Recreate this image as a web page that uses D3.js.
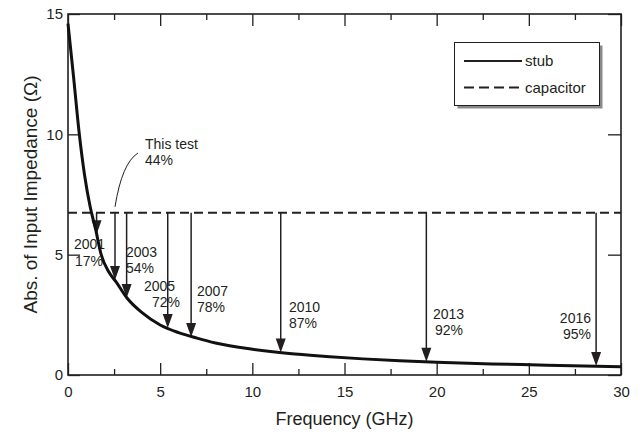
<!DOCTYPE html>
<html>
<head>
<meta charset="utf-8">
<script src="https://cdn.jsdelivr.net/npm/d3@7"></script>
<style>
  html, body { margin: 0; padding: 0; background: #fff; }
  svg { display: block; font-family: "Liberation Sans", Arial, Helvetica, sans-serif; }
</style>
</head>
<body>
<svg id="chart" width="643" height="437"></svg>
<script>
// ---- data ----
const stubFreq = [0, 0.3, 0.6, 0.9, 1.2, 1.5, 1.8, 2.2, 2.6, 3.2, 4, 5, 6, 7, 8, 10, 12, 14, 16, 18, 20, 23, 26, 30];
const stubZ    = [14.6, 12.4, 10.1, 8.3, 7.0, 6.05, 5.0, 4.3, 3.88, 3.2, 2.6, 2.08, 1.76, 1.53, 1.33, 1.07, 0.89, 0.77, 0.67, 0.59, 0.53, 0.46, 0.41, 0.34];
const capacitorZ = 6.74;
const arrowLabels = ["2001", "This test", "2003", "2005", "2007", "2010", "2013", "2016"];
const arrowPct    = ["17%", "44%", "54%", "72%", "78%", "87%", "92%", "95%"];
const arrowFreq   = [1.55, 2.55, 3.18, 5.41, 6.68, 11.54, 19.44, 28.65];
const arrowTipZ   = [5.85, 3.95, 3.2, 1.95, 1.58, 0.93, 0.55, 0.37];
const xMajorTicks = [0, 5, 10, 15, 20, 25, 30];
const xMinorTicks = [2.5, 7.5, 12.5, 17.5, 22.5, 27.5];
const yTicks = [0, 5, 10, 15];
const seriesNames = ["stub", "capacitor"];

// ---- layout (pixels) ----
const L = 68, R = 621, T = 14, B = 375;
const ink = "#231f20";
// label placement per arrow: [x line1, x line2, baseline1, baseline2, anchor]
const labelLayout = [
  [74, 75, 249, 266, "start"],
  [145, 145, 149, 165, "start"],
  [126, 126, 257, 273, "start"],
  [144, 152, 291, 307, "start"],
  [197, 197, 296, 312, "start"],
  [289, 289, 312, 328, "start"],
  [433, 435, 319, 335, "start"],
  [591, 591, 323, 339, "end"]
];

const svg = d3.select("#chart");
const x = d3.scaleLinear().domain([0, 30]).range([L, R]);
const y = d3.scaleLinear().domain([0, 15]).range([B, T]);

// axes with inward ticks
function styleAxis(g) {
  g.select(".domain").remove();
  g.selectAll("line").attr("stroke", ink).attr("stroke-width", 1.3);
  g.selectAll("text").attr("fill", ink).style("font-size", "15px").style("font-family", "'Liberation Sans', Arial, sans-serif");
}
svg.append("g").attr("transform", `translate(0,${B})`)
  .call(d3.axisBottom(x).tickValues(xMajorTicks).tickSizeInner(-12).tickSizeOuter(0).tickPadding(11).tickFormat(d3.format("d")))
  .call(styleAxis);
svg.append("g").attr("transform", `translate(0,${B})`)
  .call(d3.axisBottom(x).tickValues(xMinorTicks).tickSizeInner(-6).tickSizeOuter(0).tickFormat(""))
  .call(styleAxis);
svg.append("g").attr("transform", `translate(0,${T})`)
  .call(d3.axisTop(x).tickValues(xMajorTicks).tickSizeInner(-12).tickSizeOuter(0).tickFormat(""))
  .call(styleAxis);
svg.append("g").attr("transform", `translate(0,${T})`)
  .call(d3.axisTop(x).tickValues(xMinorTicks).tickSizeInner(-6).tickSizeOuter(0).tickFormat(""))
  .call(styleAxis);
svg.append("g").attr("transform", `translate(${L},0)`)
  .call(d3.axisLeft(y).tickValues(yTicks).tickSizeInner(-12).tickSizeOuter(0).tickPadding(5).tickFormat(d3.format("d")))
  .call(styleAxis);
svg.append("g").attr("transform", `translate(${R},0)`)
  .call(d3.axisRight(y).tickValues(yTicks).tickSizeInner(-13).tickSizeOuter(0).tickFormat(""))
  .call(styleAxis);

// frame
svg.append("rect").attr("x", L).attr("y", T).attr("width", R - L).attr("height", B - T)
  .attr("fill", "none").attr("stroke", ink).attr("stroke-width", 1.6);

// capacitor dashed line
svg.append("line")
  .attr("x1", x(0)).attr("x2", x(30)).attr("y1", y(capacitorZ)).attr("y2", y(capacitorZ))
  .attr("stroke", ink).attr("stroke-width", 2).attr("stroke-dasharray", "9,5");

// arrows
const arrows = svg.append("g");
arrowFreq.forEach((f, i) => {
  const ax = x(f), y0 = y(capacitorZ), y1 = y(arrowTipZ[i]);
  const headH = 14, headW = 5;
  arrows.append("line").attr("x1", ax).attr("x2", ax).attr("y1", y0).attr("y2", y1 - headH + 1)
    .attr("stroke", ink).attr("stroke-width", 1.5);
  arrows.append("path")
    .attr("d", `M${ax - headW},${y1 - headH} L${ax + headW},${y1 - headH} L${ax},${y1} Z`)
    .attr("fill", ink);
  const lay = labelLayout[i];
  arrows.append("text").attr("x", lay[0]).attr("y", lay[2]).attr("text-anchor", lay[4])
    .attr("fill", ink).style("font-size", "14px").text(arrowLabels[i]);
  arrows.append("text").attr("x", lay[1]).attr("y", lay[3]).attr("text-anchor", lay[4])
    .attr("fill", ink).style("font-size", "14px").text(arrowPct[i]);
});
// leader line for "This test"
svg.append("path")
  .attr("d", `M${x(arrowFreq[1])},${y(capacitorZ) - 6} Q122,163 138,153`)
  .attr("fill", "none").attr("stroke", ink).attr("stroke-width", 1);

// stub curve
const line = d3.line().x((d, i) => x(stubFreq[i])).y(d => y(d)).curve(d3.curveMonotoneX);
svg.append("path").datum(stubZ).attr("d", line)
  .attr("fill", "none").attr("stroke", "#111").attr("stroke-width", 3).attr("stroke-linejoin", "round");

// axis titles
svg.append("text").attr("x", (L + R) / 2).attr("y", 425).attr("text-anchor", "middle")
  .attr("fill", ink).style("font-size", "18px").text("Frequency (GHz)");
svg.append("text").attr("transform", `translate(37,${(T + B) / 2}) rotate(-90)`).attr("text-anchor", "middle")
  .attr("fill", ink).style("font-size", "19px").text("Abs. of Input Impedance (\u03A9)");

// legend
const lg = svg.append("g");
lg.append("rect").attr("x", 457.5).attr("y", 45.5).attr("width", 145).attr("height", 63).attr("fill", "#8a8a8a");
lg.append("rect").attr("x", 454.5).attr("y", 42.5).attr("width", 145).attr("height", 63)
  .attr("fill", "#fff").attr("stroke", ink).attr("stroke-width", 1);
const legY = [61, 87.5];
seriesNames.forEach((n, i) => {
  lg.append("line").attr("x1", 464).attr("x2", 522).attr("y1", legY[i]).attr("y2", legY[i])
    .attr("stroke", ink).attr("stroke-width", 2)
    .attr("stroke-dasharray", i === 1 ? "10,5" : null);
  lg.append("text").attr("x", 525).attr("y", legY[i] + 5).attr("fill", ink)
    .style("font-size", "15px").text(n);
});
</script>
</body>
</html>
